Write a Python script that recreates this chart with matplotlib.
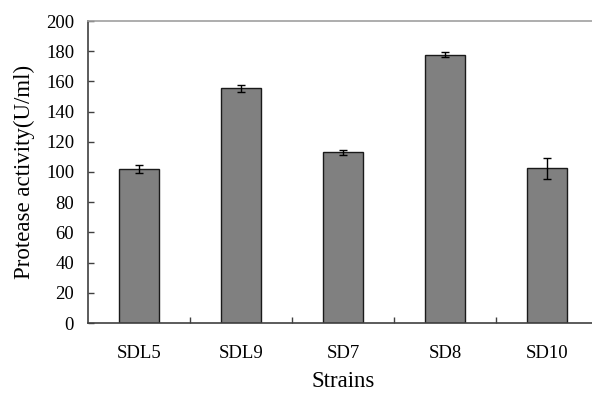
"""Protease activity of strains bar chart"""

import matplotlib

matplotlib.use("Agg")
import matplotlib.pyplot as plt
import numpy as np

strains = ["SDL5", "SDL9", "SD7", "SD8", "SD10"]
activity = [102, 155.5, 113, 177.8, 102.5]
errors = [2.5, 2.2, 1.8, 1.8, 7.0]
y_ticks = [0, 20, 40, 60, 80, 100, 120, 140, 160, 180, 200]

plt.rcParams["font.family"] = ["Liberation Serif", "DejaVu Serif"]

fig = plt.figure(figsize=(5.92, 3.94), dpi=100)
# plot area runs slightly past the right edge of the image, as in the reference
ax = fig.add_axes([88 / 592, 1 - 323 / 394, 510 / 592, 302 / 394])

x = np.arange(len(strains))
ax.bar(x, activity, width=0.4, color="#808080", edgecolor="#1a1a1a",
       linewidth=1.0, zorder=2)
ax.errorbar(x, activity, yerr=errors, fmt="none", ecolor="black",
            elinewidth=1.0, capsize=3, capthick=1.0, zorder=3)

ax.set_xlim(-0.5, len(strains) - 0.5)
ax.set_ylim(0, 200)
ax.set_yticks(y_ticks)
ax.set_xticks(x)
ax.set_xticklabels(strains)
ax.set_xticks(np.arange(0.5, len(strains) - 0.5, 1), minor=True)

ax.tick_params(axis="y", direction="in", length=4.5, width=1,
               color="#404040", labelsize=13.5, pad=10)
ax.tick_params(axis="x", which="major", length=0, labelsize=13.5, pad=16)
ax.tick_params(axis="x", which="minor", direction="in", length=4.5,
               width=1, color="#404040")

ax.spines["right"].set_visible(False)
ax.spines["top"].set_color("#a0a0a0")
ax.spines["top"].set_linewidth(1.2)
for side in ["left", "bottom"]:
    ax.spines[side].set_color("#404040")
    ax.spines[side].set_linewidth(1.2)

ax.set_xlabel("Strains", fontsize=16.5, labelpad=6)
ax.set_ylabel("Protease activity(U/ml)", fontsize=16.5, labelpad=8)

fig.savefig("out.png", dpi=100)
